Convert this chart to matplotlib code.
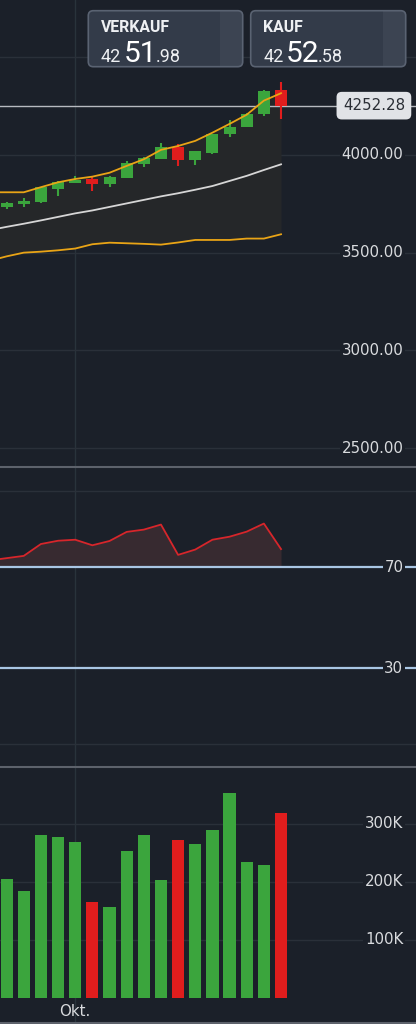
import numpy as np
import matplotlib
matplotlib.use("Agg")
import matplotlib.pyplot as plt
import matplotlib.transforms as mtransforms
from matplotlib.patches import FancyBboxPatch, Rectangle

# candles, index 0..16
opens = [3735, 3748, 3758, 3826, 3855, 3876, 3852, 3881, 3956, 3980, 4039, 3976, 4012, 4107, 4142, 4208, 4334]
highs = [3761, 3781, 3838, 3868, 3893, 3889, 3893, 3969, 3990, 4060, 4055, 4022, 4108, 4178, 4215, 4330, 4375]
lows = [3722, 3735, 3756, 3792, 3854, 3817, 3836, 3880, 3937, 3979, 3944, 3947, 4007, 4091, 4141, 4201, 4184]
closes = [3753, 3764, 3835, 3860, 3871, 3853, 3887, 3959, 3985, 4039, 3973, 4019, 4107, 4143, 4210, 4328, 4252.28]
volumes = [205e3, 185e3, 281e3, 278e3, 269e3, 165e3, 156e3, 253e3, 280e3, 204e3,
           273e3, 266e3, 290e3, 354e3, 235e3, 230e3, 319e3]

# indicator lines, index -1..16 (one point before the first visible candle)
band_upper = [3809, 3809, 3809, 3835, 3860, 3877, 3889, 3909, 3944, 3978, 4026, 4046, 4072, 4114, 4159, 4206, 4278, 4316]
band_mid = [3615, 3632, 3648, 3665, 3683, 3701, 3716, 3734, 3752, 3770, 3788, 3804, 3822, 3841, 3867, 3893, 3923, 3952]
band_lower = [3458, 3481, 3500, 3505, 3512, 3521, 3543, 3551, 3548, 3545, 3541, 3552, 3565, 3565, 3565, 3572, 3572, 3594]
rsi = [72.6, 73.5, 74.4, 79.1, 80.4, 80.8, 78.6, 80.3, 83.9, 84.8, 86.8, 74.8, 76.9, 80.8, 82.0, 84.0, 87.2, 77.1]

price_ticks = [2500, 3000, 3500, 4000]
price_grid = [2500, 3000, 3500, 4000, 4500]
rsi_grid = [0, 100]
rsi_levels = [30, 70]
vol_ticks = [100e3, 200e3, 300e3]
vol_labels = ["100K", "200K", "300K"]
month_idx = 4
month_label = "Okt."
sell_price = ("42", "51", ".98")
buy_price = ("42", "52", ".58")

BG = "#1b2029"
GRID = "#2a3039"
TXT = "#d9dbde"
GREEN = "#3ba53d"
RED = "#e01d1d"
GOLD = "#e9a416"
SEP = "#5d626b"

W, H = 416, 1024
fig = plt.figure(figsize=(W / 100, H / 100), dpi=100, facecolor=BG)

x = np.arange(len(closes))
x_ext = np.arange(-1, len(closes))
XLIM = (-0.385, 23.87)
LX = 403.3 / W


def panel(top, bottom):
    ax = fig.add_axes([0, 1 - bottom / H, 1, (bottom - top) / H])
    ax.set_facecolor(BG)
    ax.set_xlim(*XLIM)
    for s in ax.spines.values():
        s.set_visible(False)
    ax.set_xticks([])
    ax.set_yticks([])
    ax.axvline(month_idx, color="#29333b", lw=1, zorder=0.5)
    return ax


def ylabel(ax, y, s):
    tr = mtransforms.blended_transform_factory(ax.transAxes, ax.transData)
    ax.text(LX, y, s, transform=tr, ha="right", va="center", fontsize=10.8, color=TXT,
            zorder=10, bbox=dict(boxstyle="square,pad=0.12", fc=BG, ec="none"))


# ---- price panel
ax = panel(0, 467)
ax.set_ylim(2403, 4793)
for g in price_grid:
    ax.axhline(g, color=GRID, lw=1, zorder=0.5)
for t in price_ticks:
    ylabel(ax, t, f"{t:.2f}")

ax.fill_between(x_ext, band_lower, band_upper, color="#252729", lw=0, zorder=1)
ax.plot(x_ext, band_mid, color="#d6d6d6", lw=1.3, zorder=2)
ax.plot(x_ext, band_lower, color=GOLD, lw=1.3, zorder=2)
ax.axhline(closes[-1], color="#b7bac0", lw=1, zorder=2)

colors = [GREEN if c >= o else RED for o, c in zip(opens, closes)]
bottoms = [min(o, c) for o, c in zip(opens, closes)]
heights = [max(abs(c - o), 2) for o, c in zip(opens, closes)]
ax.vlines(x, lows, highs, colors=colors, lw=1.5, zorder=3)
ax.bar(x, heights, bottom=bottoms, width=0.7, color=colors, zorder=3)
ax.plot(x_ext, band_upper, color=GOLD, lw=1.3, zorder=4)

tr = mtransforms.blended_transform_factory(ax.transAxes, ax.transData)
ax.text(373.9 / W, closes[-1], f"{closes[-1]:.2f}", transform=tr, ha="center", va="center",
        fontsize=10.8, color="#2a2e35", zorder=11,
        bbox=dict(boxstyle="round,pad=0.42,rounding_size=0.35", fc="#e1e3e7", ec="none"))

# ---- RSI panel
ax = panel(467, 767)
ax.set_ylim(-9.2, 109.6)
for g in rsi_grid:
    ax.axhline(g, color=GRID, lw=1, zorder=0.5)
ax.fill_between(x_ext, rsi, 70, color="#372a30", lw=0, zorder=1)
ax.plot(x_ext, rsi, color="#d7262b", lw=1.3, zorder=3)
for lv in rsi_levels:
    ax.axhline(lv, color="#a9c6e4", lw=1.6, zorder=2)
    ylabel(ax, lv, str(lv))

# ---- volume panel
ax = panel(767, 1024)
ax.set_ylim(-44.8e3, 398e3)
for t, lab in zip(vol_ticks, vol_labels):
    ax.axhline(t, color=GRID, lw=1, zorder=0.5)
    ylabel(ax, t, lab)
ax.bar(x, volumes, width=0.71, color=colors, zorder=3)
trv = mtransforms.blended_transform_factory(ax.transData, ax.transAxes)
ax.text(month_idx, 0.048, month_label, transform=trv, ha="center", va="center",
        fontsize=10.8, color=TXT)

# ---- overlay in pixel coordinates: separators and price boxes
ui = fig.add_axes([0, 0, 1, 1], zorder=20)
ui.set_xlim(0, W)
ui.set_ylim(H, 0)
ui.axis("off")
ui.patch.set_alpha(0)
for y in (467, 767, 1022.7):
    ui.axhline(y, color=SEP, lw=1.5)


def price_box(x0, x1, title, parts):
    box = FancyBboxPatch((x0, 10.7), x1 - x0, 56, boxstyle="round,pad=0,rounding_size=5",
                         fc="#333b49", ec="none")
    ui.add_patch(box)
    strip = Rectangle((x1 - 22.5, 0), 30, 80, fc="#3c4452", ec="none")
    ui.add_patch(strip)
    strip.set_clip_path(box)
    ui.add_patch(FancyBboxPatch((x0, 10.7), x1 - x0, 56, boxstyle="round,pad=0,rounding_size=5",
                                fc="none", ec="#5a6372", lw=1.2))
    tx = x0 + 12.5
    ui.text(tx, 31.7, title, family="Roboto", fontweight="bold", fontsize=11.3,
            color="#eef0f3", va="baseline")
    ui.text(tx, 61.7, parts[0], family="Roboto", fontsize=13, color="#eef0f3", va="baseline")
    ui.text(tx + 23, 61.7, parts[1], family="Roboto", fontsize=21.5, color="#ffffff", va="baseline")
    ui.text(tx + 54.5, 61.7, parts[2], family="Roboto", fontsize=13, color="#eef0f3", va="baseline")


price_box(88.3, 242.7, "VERKAUF", sell_price)
price_box(250.7, 405.7, "KAUF", buy_price)

fig.savefig("out.png", dpi=100, facecolor=BG)
